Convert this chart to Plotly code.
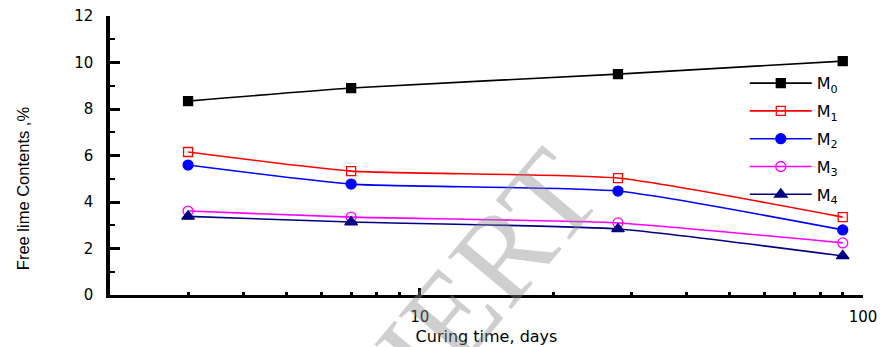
import plotly.graph_objects as go

# Curing time (days) and free lime content (%) for each mix
days = [3, 7, 28, 90]
m0 = [8.34, 8.90, 9.50, 10.06]
m1 = [6.15, 5.33, 5.03, 3.35]
m2 = [5.59, 4.77, 4.47, 2.80]
m3 = [3.61, 3.35, 3.10, 2.24]
m4 = [3.38, 3.14, 2.84, 1.68]

series_names = ["M<sub>0</sub>", "M<sub>1</sub>", "M<sub>2</sub>", "M<sub>3</sub>", "M<sub>4</sub>"]
series_values = [m0, m1, m2, m3, m4]

y_ticks = [0, 2, 4, 6, 8, 10, 12]
x_ticks = [10, 100]
x_minor = [3, 4, 5, 6, 7, 8, 9, 20, 30, 40, 50, 60, 70, 80, 90]

styles = [
    dict(color="#000000", symbol="square", size=9, fill="#000000"),
    dict(color="#ff0000", symbol="square-open", size=9, fill="#ff0000"),
    dict(color="#0000ff", symbol="circle", size=10, fill="#0000ff"),
    dict(color="#ff00ff", symbol="circle-open", size=10, fill="#ff00ff"),
    dict(color="#000080", symbol="triangle-up", size=11, fill="#000080"),
]

fig = go.Figure()
for i, (name, vals, st) in enumerate(zip(series_names, series_values, styles)):
    fig.add_trace(go.Scatter(
        x=days, y=vals, name=name, legendgroup=f"g{i}",
        mode="lines+markers",
        line=dict(color=st["color"], width=1.6, shape="spline", smoothing=0.5),
        marker=dict(symbol=st["symbol"], size=st["size"], color=st["fill"],
                    line=dict(color=st["color"], width=1.3)),
    ))

tick_font = dict(family="DejaVu Sans", size=15, color="#000000")

fig.update_layout(
    width=890, height=347,
    margin=dict(l=110, r=27, t=16, b=52),
    paper_bgcolor="#ffffff", plot_bgcolor="#ffffff",
    showlegend=True,
    legend=dict(
        x=0.843, y=0.82, xanchor="left", yanchor="top",
        bgcolor="rgba(0,0,0,0)", borderwidth=0,
        font=dict(family="DejaVu Sans", size=16, color="#000000"),
        itemwidth=62, tracegroupgap=4,
    ),
    xaxis=dict(
        type="log", range=[0.301, 2.0], automargin=False,
        tickmode="array", tickvals=x_ticks, ticktext=[str(v) for v in x_ticks],
        ticks="inside", ticklen=7, tickwidth=3, tickcolor="#000000",
        minor=dict(tickmode="array", tickvals=x_minor, ticks="inside",
                   ticklen=3, tickwidth=3, tickcolor="#000000", showgrid=False),
        showline=True, linecolor="#000000", linewidth=2.5,
        showgrid=False, zeroline=False, mirror=False,
        tickfont=tick_font, ticklabelstandoff=6,
        title=dict(text="Curing time, days",
                   font=dict(family="DejaVu Sans", size=16, color="#000000"),
                   standoff=7),
    ),
    yaxis=dict(
        range=[0, 12], automargin=False,
        tickmode="array", tickvals=y_ticks,
        ticks="inside", ticklen=10, tickwidth=3, tickcolor="#000000",
        minor=dict(dtick=1, ticks="inside", ticklen=5, tickwidth=2,
                   tickcolor="#000000", showgrid=False),
        showline=True, linecolor="#000000", linewidth=3.5,
        showgrid=False, zeroline=False, mirror=False,
        tickfont=tick_font, ticklabelstandoff=10,
    ),
)

# Y-axis caption
fig.add_annotation(
    text="Free lime Contents ,%",
    xref="paper", yref="paper", x=0, y=0.383,
    xanchor="center", yanchor="middle",
    xshift=-87, textangle=-90, showarrow=False,
    font=dict(family="Liberation Sans", size=16.5, color="#000000"),
)

# Publisher watermark
fig.add_annotation(
    text="IJERT",
    xref="paper", yref="paper", x=0.48, y=0.014,
    xanchor="center", yanchor="middle",
    textangle=-50, showarrow=False,
    font=dict(family="Liberation Serif", size=125, color="rgba(140,140,140,0.42)"),
)

fig.write_html("out.html")
